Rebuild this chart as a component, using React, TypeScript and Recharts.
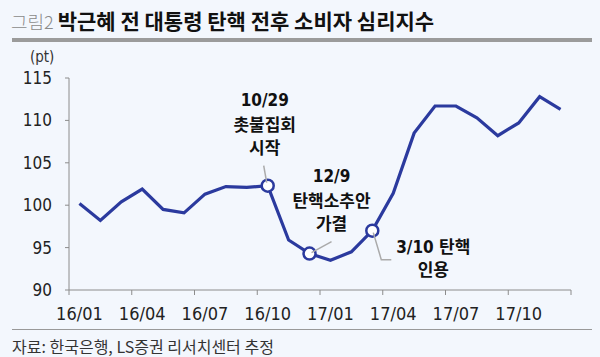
import { LineChart, Line, XAxis, YAxis } from 'recharts';

// 소비자심리지수, 월별 (16/01 ~ 17/12)
const months = [
  '16/01', '16/02', '16/03', '16/04', '16/05', '16/06', '16/07', '16/08', '16/09', '16/10', '16/11', '16/12',
  '17/01', '17/02', '17/03', '17/04', '17/05', '17/06', '17/07', '17/08', '17/09', '17/10', '17/11', '17/12',
];
const csi = [
  100.2, 98.2, 100.4, 101.9, 99.5, 99.1, 101.3, 102.2, 102.1, 102.3, 95.9, 94.3,
  93.5, 94.5, 97.0, 101.4, 108.5, 111.7, 111.7, 110.3, 108.2, 109.7, 112.8, 111.3,
];
const tickLabels = ['16/01', '16/04', '16/07', '16/10', '17/01', '17/04', '17/07', '17/10'];
const yTicks = [90, 95, 100, 105, 110, 115];

// annotated months
const noteMonths = ['16/10', '16/12', '17/03'];
const noteTexts = [
  ['10/29', '촛불집회', '시작'],
  ['12/9', '탄핵소추안', '가결'],
  ['3/10 탄핵', '인용'],
];

// label placement relative to the marked point
const notePlacement = [
  { dx: -3, dy: [-86, -61, -38], leader: [[-4, -20], [-1, -3]] },
  { dx: 22, dy: [-78, -53, -30], leader: [[22, -12], [2, -1]] },
  { dx: 61, dy: [16, 39], leader: [[19, 29], [9, 29], [1, 2]] },
];

const W = 600;
const H = 357;
const M = { top: 78, right: 29, bottom: 0, left: 0 };
const Y_W = 69;
const BAND = (W - M.left - M.right - Y_W) / months.length;
const BLUE = '#2b3a9e';
const NARROW = '"Liberation Sans Narrow", "Arial Narrow", "DejaVu Sans Condensed", "Noto Sans CJK KR", sans-serif';

const data = months.map((m, i) => ({ month: m, pos: i + 0.5, value: csi[i] }));
const xTicks = tickLabels.map((_, i) => i * 3).concat(months.length);

const MonthTick = (props: any) => {
  const { x, y, payload } = props;
  const label = tickLabels[payload.value / 3];
  if (!label) return <g />;
  return (
    <text x={x + BAND / 2} y={y} dy={23} textAnchor="middle" fontSize={18} fill="#222" fontFamily={NARROW}>
      {label}
    </text>
  );
};

const renderDot = (props: any) => {
  const { cx, cy, index } = props;
  const k = noteMonths.indexOf(months[index]);
  if (k < 0) return <g key={`d${index}`} />;
  const p = notePlacement[k];
  return (
    <g key={`d${index}`}>
      <circle cx={cx} cy={cy} r={6} fill="#fff" stroke={BLUE} strokeWidth={2.5} />
      <polyline
        points={p.leader.map(([a, b]) => `${cx + a},${cy + b}`).join(' ')}
        fill="none"
        stroke="#aaa"
        strokeWidth={1.5}
      />
      {noteTexts[k].map((t, i) => (
        <text
          key={i}
          x={cx + p.dx}
          y={cy + p.dy[i]}
          textAnchor="middle"
          dominantBaseline="central"
          fontSize={17}
          fontWeight={700}
          fill="#111"
          fontFamily={NARROW}
        >
          {t}
        </text>
      ))}
    </g>
  );
};

export default function App() {
  return (
    <div style={{ position: 'absolute', left: 0, top: 0, width: W, height: H, background: '#f3f7fd', overflow: 'hidden' }}>
      <div style={{ position: 'absolute', left: 11, top: 5, whiteSpace: 'nowrap', fontFamily: '"Noto Sans CJK KR", sans-serif', lineHeight: '30px' }}>
        <span style={{ fontSize: 18, color: '#8a8a8a', fontWeight: 300 }}>그림2 </span>
        <span style={{ fontSize: 21, color: '#111', fontWeight: 700 }}>박근혜 전 대통령 탄핵 전후 소비자 심리지수</span>
      </div>
      <div style={{ position: 'absolute', left: 12, top: 38, width: 580, height: 4, background: '#9b9b9b' }} />
      <div style={{ position: 'absolute', left: 30, top: 48, fontSize: 15, color: '#333', fontFamily: NARROW }}>(pt)</div>
      <div style={{ position: 'absolute', left: 0, top: 0 }}>
        <LineChart width={W} height={H} data={data} margin={M}>
          <XAxis
            dataKey="pos"
            type="number"
            domain={[0, months.length]}
            ticks={xTicks}
            interval={0}
            height={67}
            tickSize={5}
            tickMargin={2}
            axisLine={{ stroke: '#8c8c8c' }}
            tickLine={{ stroke: '#8c8c8c' }}
            tick={<MonthTick />}
          />
          <YAxis
            domain={[90, 115]}
            ticks={yTicks}
            interval={0}
            width={Y_W}
            tickSize={4}
            tickMargin={13}
            axisLine={{ stroke: '#8c8c8c' }}
            tickLine={{ stroke: '#8c8c8c' }}
            tick={{ fontSize: 17, fill: '#222', fontFamily: NARROW }}
          />
          <Line
            type="linear"
            dataKey="value"
            stroke={BLUE}
            strokeWidth={3.2}
            dot={renderDot}
            activeDot={false}
            isAnimationActive={false}
          />
        </LineChart>
      </div>
      <div style={{ position: 'absolute', left: 12, top: 329, width: 580, height: 1, background: '#999' }} />
      <div style={{ position: 'absolute', left: 12, top: 336, fontSize: 16, color: '#333', whiteSpace: 'nowrap', fontFamily: '"Noto Sans CJK KR", sans-serif', lineHeight: '20px' }}>
        자료: 한국은행, LS증권 리서치센터 추정
      </div>
    </div>
  );
}
